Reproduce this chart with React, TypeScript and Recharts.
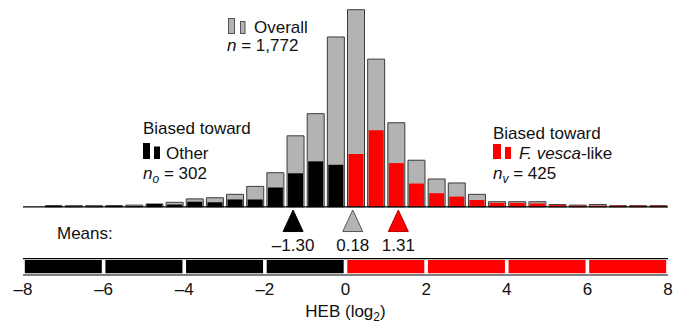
import React from 'react';
import {
  ComposedChart,
  Bar,
  XAxis,
  YAxis,
  ReferenceLine,
  ReferenceArea,
  ReferenceDot,
  Label,
} from 'recharts';

// Bin starts (log2 HEB), bin width 0.5
const binStarts = [
  -8, -7.5, -7, -6.5, -6, -5.5, -5, -4.5, -4, -3.5, -3, -2.5, -2, -1.5, -1, -0.5,
  0, 0.5, 1, 1.5, 2, 2.5, 3, 3.5, 4, 4.5, 5, 5.5, 6, 6.5, 7, 7.5,
];
const binWidth = 0.5;
const overallCounts = [
  0, 2, 2, 2, 2, 3, 5, 8, 14, 16, 22, 36, 60, 125, 164, 299,
  347, 260, 148, 82, 49, 42, 22, 9, 9, 9, 4, 3, 4, 2, 2, 2,
];
const otherCounts = [
  0, 2, 0, 0, 2, 1, 5, 4, 9, 8, 13, 13, 34, 59, 80, 74,
  0, 0, 0, 0, 0, 0, 0, 0, 0, 0, 0, 0, 0, 0, 0, 0,
];
const vescaCounts = [
  0, 0, 0, 0, 0, 0, 0, 0, 0, 0, 0, 0, 0, 0, 0, 0,
  93, 135, 77, 41, 24, 18, 12, 7, 7, 6, 3, 2, 2, 2, 2, 2,
];

const xTicks = [-8, -6, -4, -2, 0, 2, 4, 6, 8];
const stripSegments = [
  { from: -8, to: -6, group: 'other' },
  { from: -6, to: -4, group: 'other' },
  { from: -4, to: -2, group: 'other' },
  { from: -2, to: 0, group: 'other' },
  { from: 0, to: 2, group: 'vesca' },
  { from: 2, to: 4, group: 'vesca' },
  { from: 4, to: 6, group: 'vesca' },
  { from: 6, to: 8, group: 'vesca' },
];
const means = [
  { label: '\u20131.30', value: -1.3, group: 'other' },
  { label: '0.18', value: 0.18, group: 'overall' },
  { label: '1.31', value: 1.31, group: 'vesca' },
];

const GRAY = '#b3b3b3';
const GRAY_STROKE = '#3a3a3a';
const BLACK = '#000000';
const RED = '#ff0000';
const FONT = '"Liberation Sans", Arial, Helvetica, sans-serif';
const FS = 17;
const TXT = '#111111';

const fillFor = (g: string) => (g === 'other' ? BLACK : g === 'vesca' ? RED : GRAY);
const strokeFor = (g: string) => (g === 'other' ? BLACK : g === 'vesca' ? '#b00000' : '#555555');

const data = binStarts.map((s, i) => ({
  x: s + binWidth / 2,
  overall: overallCounts[i] || null,
  other: otherCounts[i] || null,
  vesca: vescaCounts[i] || null,
}));

const fmtTick = (v: number) => (v < 0 ? '\u2013' + Math.abs(v) : String(v));

const Tick = (props: any) => {
  const { x, y, payload } = props;
  return (
    <text x={x} y={y + 19.5} textAnchor="middle" fontSize={FS} fontFamily={FONT} fill={TXT}>
      {fmtTick(payload.value)}
    </text>
  );
};

const AxisTitle = (props: any) => {
  const vb = props.viewBox || {};
  const cx = vb.x + vb.width / 2;
  const y = vb.y + 42;
  return (
    <text x={cx} y={y} textAnchor="middle" fontSize={FS} fontFamily={FONT} fill={TXT}>
      HEB (log
      <tspan fontSize={12} dy={4}>2</tspan>
      <tspan dy={-4}>)</tspan>
    </text>
  );
};

const makeTriangle = (m: { label: string; group: string }) => (p: any) => {
  const { cx, cy } = p;
  if (cx == null || cy == null) return <g />;
  const pts = `${cx},${cy - 11} ${cx - 10},${cy + 10.5} ${cx + 10},${cy + 10.5}`;
  return (
    <g>
      <polygon points={pts} fill={fillFor(m.group)} stroke={strokeFor(m.group)} strokeWidth={1} />
      <text x={cx} y={cy + 29.5} textAnchor="middle" fontSize={FS} fontFamily={FONT} fill={TXT}>
        {m.label}
      </text>
    </g>
  );
};

const Overlay = () => (
  <svg
    width={683}
    height={326}
    style={{ position: 'absolute', left: 0, top: 0, pointerEvents: 'none' }}
    fontFamily={FONT}
    fontSize={FS}
    fill={TXT}
  >
    {/* Overall legend */}
    <rect x={228.5} y={18.5} width={6} height={15} fill={GRAY} stroke="#555" />
    <rect x={240.5} y={21.5} width={4.5} height={12} fill={GRAY} stroke="#555" />
    <text x={254} y={33.3}>Overall</text>
    <text x={227} y={51.3}>
      <tspan fontStyle="italic">n</tspan> = 1,772
    </text>

    {/* Other legend */}
    <text x={143} y={134.3}>Biased toward</text>
    <rect x={143} y={143} width={7} height={16} fill={BLACK} />
    <rect x={154} y={146.5} width={6} height={12.5} fill={BLACK} />
    <text x={166} y={159.3}>Other</text>
    <text x={143} y={179.3}>
      <tspan fontStyle="italic">n</tspan>
      <tspan fontStyle="italic" fontSize={12} dy={4}>o</tspan>
      <tspan dy={-4}> = 302</tspan>
    </text>

    {/* F. vesca legend */}
    <text x={493} y={139.3}>Biased toward</text>
    <rect x={493} y={144} width={8} height={15} fill={RED} />
    <rect x={505} y={147} width={6} height={12} fill={RED} />
    <text x={519} y={159.3}>
      <tspan fontStyle="italic">F. vesca</tspan>-like
    </text>
    <text x={493} y={179.3}>
      <tspan fontStyle="italic">n</tspan>
      <tspan fontStyle="italic" fontSize={12} dy={4}>v</tspan>
      <tspan dy={-4}> = 425</tspan>
    </text>

    <text x={57} y={239.3}>Means:</text>
  </svg>
);

export default function App() {
  return (
    <div style={{ position: 'absolute', left: 0, top: 0, width: 683, height: 326, background: '#fff' }}>
      <ComposedChart
        width={683}
        height={326}
        data={data}
        margin={{ top: 8, right: 15, bottom: 0, left: 23 }}
      >
        <XAxis
          xAxisId="g"
          type="number"
          dataKey="x"
          domain={[-8, 8]}
          ticks={xTicks}
          tick={<Tick />}
          tickLine={false}
          tickSize={0}
          tickMargin={0}
          axisLine={{ stroke: '#000', strokeWidth: 1.2 }}
          height={51}
          allowDataOverflow
        >
          <Label content={<AxisTitle />} />
        </XAxis>
        <XAxis xAxisId="o" type="number" dataKey="x" domain={[-8, 8]} hide allowDataOverflow />
        <XAxis xAxisId="v" type="number" dataKey="x" domain={[-8, 8]} hide allowDataOverflow />
        <YAxis type="number" domain={[-120, 350]} hide allowDataOverflow />

        {/* strip frame top line */}
        <ReferenceLine xAxisId="g" y={-91} stroke="#000" strokeWidth={1.2} />
        {stripSegments.map((s, i) => (
          <ReferenceArea
            key={i}
            xAxisId="g"
            x1={s.from + 0.045}
            x2={s.to - 0.045}
            y1={-117}
            y2={-93.6}
            fill={fillFor(s.group)}
            fillOpacity={1}
            stroke="none"
          />
        ))}

        <Bar
          xAxisId="g"
          dataKey="overall"
          barSize={17}
          fill={GRAY}
          stroke={GRAY_STROKE}
          strokeWidth={1}
          isAnimationActive={false}
        />
        <Bar xAxisId="o" dataKey="other" barSize={15} fill={BLACK} isAnimationActive={false} />
        <Bar xAxisId="v" dataKey="vesca" barSize={15} fill={RED} isAnimationActive={false} />

        <ReferenceLine xAxisId="g" y={0} stroke="#000" strokeWidth={1.2} />

        {means.map((m, i) => (
          <ReferenceDot
            key={i}
            xAxisId="g"
            x={m.value}
            y={-25}
            r={10}
            shape={makeTriangle(m)}
          />
        ))}
      </ComposedChart>
      <Overlay />
    </div>
  );
}
